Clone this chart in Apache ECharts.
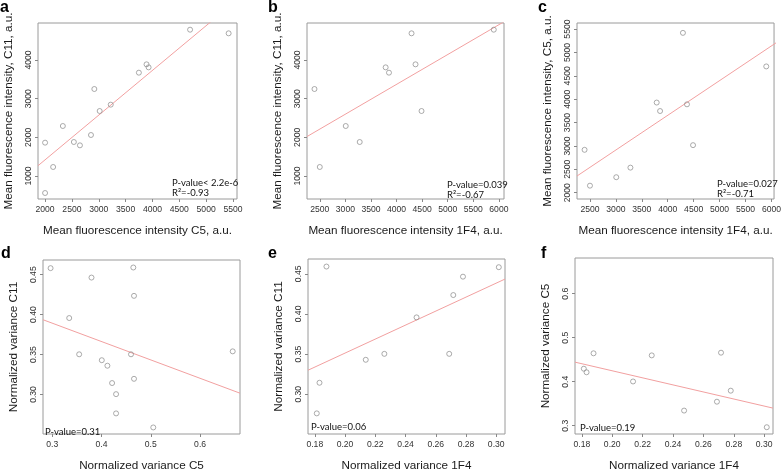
<!DOCTYPE html>
<html><head><meta charset="utf-8">
<script src="https://cdn.jsdelivr.net/npm/echarts@6/dist/echarts.min.js"></script>
<style>html,body{margin:0;padding:0;background:#fff}#c{width:784px;height:473px}</style>
</head><body><div id="c"></div>
<script>
// ---- Data ----
// Panel a: mean fluorescence intensity C5 (x) vs C11 (y)
const aC5  = [2000, 2000, 2150, 2331, 2536, 2649, 2855, 2917, 3017, 3223, 3747, 3890, 3928, 4701, 5419];
const aC11 = [1862, 560, 1233, 2293, 1879, 1793, 2060, 3250, 2681, 2845, 3672, 3888, 3810, 4784, 4690];
// Panel b: 1F4 (x) vs C11 (y)
const b1F4 = [2396, 2500, 3007, 3280, 3787, 3852, 4293, 4371, 4488, 5900];
const bC11 = [3250, 1233, 2293, 1879, 3810, 3672, 4690, 3888, 2681, 4784];
// Panel c: 1F4 (x) vs C5 (y)
const c1F4 = [2396, 2500, 3007, 3280, 3787, 3852, 4293, 4371, 4488, 5900];
const cC5  = [2917, 2150, 2331, 2536, 3928, 3747, 5419, 3890, 3017, 4701];
// Panel d: normalized variance C5 (x) vs C11 (y)
const dC5  = [0.2966, 0.3344, 0.3546, 0.3796, 0.4005, 0.4119, 0.4214, 0.4295, 0.4295, 0.4598, 0.4645, 0.4659, 0.4659, 0.5050, 0.6662];
const dC11 = [0.4582, 0.3957, 0.3503, 0.4464, 0.3429, 0.3360, 0.3143, 0.3004, 0.2763, 0.3503, 0.4590, 0.4235, 0.3196, 0.2587, 0.3540];
// Panel e: normalized variance 1F4 (x) vs C11 (y)
const e1F4 = [0.1813, 0.1831, 0.1877, 0.2137, 0.2260, 0.2473, 0.2689, 0.2716, 0.2780, 0.3017];
const eC11 = [0.2762, 0.3143, 0.4590, 0.3429, 0.3503, 0.3957, 0.3503, 0.4235, 0.4464, 0.4582];
// Panel f: normalized variance 1F4 (x) vs C5 (y)
const f1F4 = [0.1813, 0.1831, 0.1877, 0.2137, 0.2260, 0.2473, 0.2689, 0.2716, 0.2780, 0.3017];
const fC5  = [0.4295, 0.4214, 0.4645, 0.4005, 0.4598, 0.3344, 0.3546, 0.4659, 0.3796, 0.2966];

// Regression line end points [x, y]
const aFit = [[1868, 1266], [5575, 5552]];
const bFit = [[2250, 2020], [6100, 4990]];
const cFit = [[2250, 2357], [6100, 5214]];
const dFit = [[0.2812, 0.3936], [0.681, 0.3016]];
const eFit = [[0.1755, 0.3299], [0.3058, 0.4434]];
const fFit = [[0.1755, 0.4444], [0.3058, 0.3400]];

// Tick values
const ticksC5mean  = [2000, 2500, 3000, 3500, 4000, 4500, 5000, 5500];
const ticksC11mean = [1000, 2000, 3000, 4000];
const ticks1F4mean = [2500, 3000, 3500, 4000, 4500, 5000, 5500, 6000];
const ticksVarC5   = [0.3, 0.4, 0.5, 0.6];
const ticksVarC11  = [0.30, 0.35, 0.40, 0.45];
const ticksVar1F4  = [0.18, 0.20, 0.22, 0.24, 0.26, 0.28, 0.30];

// Texts
const panelLetters = ['a', 'b', 'c', 'd', 'e', 'f'];
const xTitles = ['Mean fluorescence intensity C5, a.u.', 'Mean fluorescence intensity 1F4, a.u.', 'Mean fluorescence intensity 1F4, a.u.',
                 'Normalized variance C5', 'Normalized variance 1F4', 'Normalized variance 1F4'];
const yTitles = ['Mean fluorescence intensity, C11, a.u.', 'Mean fluorescence intensity, C11, a.u.', 'Mean fluorescence intensity, C5, a.u.',
                 'Normalized variance C11', 'Normalized variance C11', 'Normalized variance C5'];
const statTexts = [['P-value< 2.2e-6', 'R\u00b2=-0.93'], ['P-value=0.039', 'R\u00b2=-0.67'], ['P-value=0.027', 'R\u00b2=-0.71'],
                   ['P-value=0.31'], ['P-value=0.06'], ['P-value=0.19']];

// ---- Layout ----
const grids = [
  {left: 38,  top: 23,  width: 199, height: 176},
  {left: 307, top: 23,  width: 197, height: 176},
  {left: 577, top: 23,  width: 198, height: 176},
  {left: 43,  top: 260, width: 197, height: 178},
  {left: 308, top: 259, width: 197, height: 176},
  {left: 575, top: 258, width: 198, height: 178}
];
const xCfg = [
  {min: 1868, max: 5575, ticks: ticksC5mean, dec: 0},
  {min: 2250, max: 6100, ticks: ticks1F4mean, dec: 0},
  {min: 2250, max: 6050, ticks: ticks1F4mean, dec: 0},
  {min: 0.2812, max: 0.681, ticks: ticksVarC5, dec: 1},
  {min: 0.1755, max: 0.3058, ticks: ticksVar1F4, dec: 2},
  {min: 0.1755, max: 0.3058, ticks: ticksVar1F4, dec: 2}
];
const yCfg = [
  {min: 405, max: 4957, ticks: ticksC11mean, dec: 0},
  {min: 405, max: 4957, ticks: ticksC11mean, dec: 0},
  {min: 1865, max: 5630, ticks: ticksC5mean, dec: 0},
  {min: 0.2505, max: 0.4684, ticks: ticksVarC11, dec: 2},
  {min: 0.2505, max: 0.4684, ticks: ticksVarC11, dec: 2},
  {min: 0.2812, max: 0.681, ticks: ticksVarC5, dec: 1}
];
const pointSets = [[aC5, aC11], [b1F4, bC11], [c1F4, cC5], [dC5, dC11], [e1F4, eC11], [f1F4, fC5]];
const fits = [aFit, bFit, cFit, dFit, eFit, fFit];

const FONT = 'Liberation Sans, Arial, sans-serif';
const tickLabel = {fontSize: 8.6, color: '#333', fontFamily: FONT};
const titleStyle = {fontSize: 11.7, color: '#1a1a1a', fontFamily: FONT};

const option = {
  backgroundColor: '#fff',
  animation: false,
  grid: grids.map(g => Object.assign({show: true, borderColor: '#9a9a9a', borderWidth: 1, backgroundColor: 'transparent'}, g)),
  xAxis: xCfg.map((c, i) => ({
    type: 'value', gridIndex: i, min: c.min, max: c.max,
    axisLine: {show: false, onZero: false},
    splitLine: {show: false},
    axisTick: {show: true, length: 3, lineStyle: {color: '#888'}, customValues: c.ticks},
    axisLabel: Object.assign({customValues: c.ticks, margin: 6, formatter: v => v.toFixed(c.dec)}, tickLabel),
    name: xTitles[i], nameLocation: 'middle', nameGap: 26, nameTextStyle: titleStyle
  })),
  yAxis: yCfg.map((c, i) => ({
    type: 'value', gridIndex: i, min: c.min, max: c.max,
    axisLine: {show: false, onZero: false},
    splitLine: {show: false},
    axisTick: {show: true, length: 3, lineStyle: {color: '#888'}, customValues: c.ticks},
    axisLabel: Object.assign({customValues: c.ticks, margin: 5, rotate: 90, formatter: v => v.toFixed(c.dec)}, tickLabel),
    name: yTitles[i], nameLocation: 'middle', nameGap: 23, nameTextStyle: titleStyle
  })),
  series: [].concat(...pointSets.map((ps, i) => [
    {
      type: 'scatter', xAxisIndex: i, yAxisIndex: i,
      data: ps[0].map((x, k) => [x, ps[1][k]]),
      symbol: 'circle', symbolSize: 5,
      itemStyle: {color: 'rgba(255,255,255,0)', borderColor: '#8a8a8a', borderWidth: 0.9},
      z: 3
    },
    {
      type: 'line', xAxisIndex: i, yAxisIndex: i, clip: true,
      data: fits[i], symbol: 'none',
      lineStyle: {color: '#f2a0a0', width: 1}, z: 2
    }
  ])),
  graphic: []
};

// Panel letters
const letterPos = [[0, 0], [268, 0], [538, 0], [1, 246], [268, 246], [541, 246]];
panelLetters.forEach((t, i) => option.graphic.push({
  type: 'text', x: letterPos[i][0], y: letterPos[i][1],
  style: {text: t, font: 'bold 16px ' + FONT, fill: '#000', textVerticalAlign: 'top'}
}));
// Stat annotations
const statPos = [[172, 178], [447, 180], [717, 179], [45, 427], [311, 422], [580, 423]];
statTexts.forEach((lines, i) => lines.forEach((t, k) => option.graphic.push({
  type: 'text', x: statPos[i][0], y: statPos[i][1] + k * 10,
  style: {text: t, font: '9.5px Lato, "Open Sans", sans-serif', fill: '#111', textVerticalAlign: 'top'}
})));

const chart = echarts.init(document.getElementById('c'), null, {renderer: 'canvas'});
chart.setOption(option);
</script>
</body></html>
